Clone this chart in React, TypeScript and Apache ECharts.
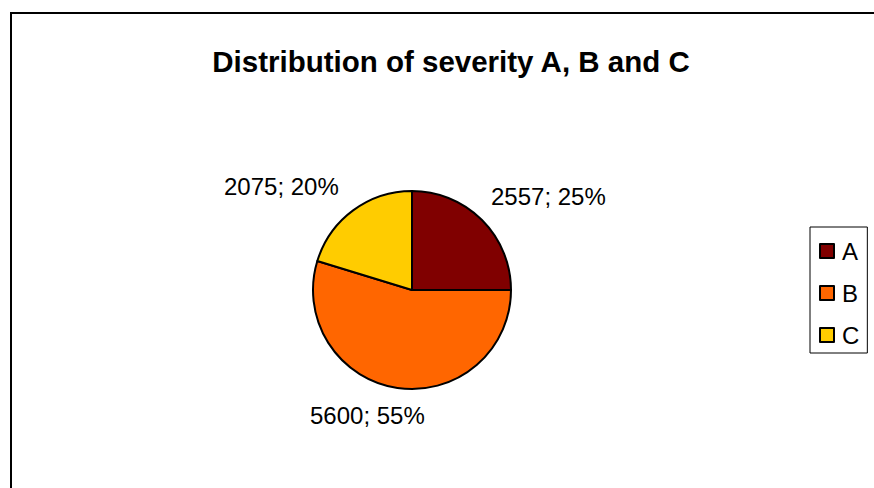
import React, { useEffect, useRef } from "react";
import * as echarts from "echarts";

const categories = ["A", "B", "C"];
const values = [2557, 5600, 2075];
const percents = [25, 55, 20];
const colors = ["#800000", "#FF6600", "#FFCC00"];
const titleText = "Distribution of severity A, B and C";

// label anchor positions (left edge, vertical middle) in px
const labelPos = [
  [491, 196],
  [310, 415],
  [224, 186],
];

export default function App() {
  const ref = useRef<HTMLDivElement>(null);
  useEffect(() => {
    document.body.style.margin = "0";
    const chart = echarts.init(ref.current!, undefined, { renderer: "svg" });
    const font = "'Liberation Sans', Arial, sans-serif";
    chart.setOption({
      animation: false,
      backgroundColor: "#ffffff",
      title: {
        text: titleText,
        left: 446,
        top: 41,
        textAlign: "center",
        textStyle: { fontFamily: font, fontSize: 29.5, fontWeight: "bold", color: "#000" },
      },
      legend: {
        orient: "vertical",
        left: 810,
        top: 227,
        data: categories,
        icon: "rect",
        itemWidth: 14,
        itemHeight: 14,
        itemGap: 18,
        borderColor: "#000",
        borderWidth: 1,
        padding: [12, 8, 6, 9],
        itemStyle: { borderColor: "#000", borderWidth: 2 },
        textStyle: { fontFamily: font, fontSize: 24, color: "#000", padding: [0, 0, 0, 3] },
      },
      graphic: [
        {
          type: "rect",
          shape: { x: 11, y: 13, width: 1000, height: 1000 },
          style: { fill: "none", stroke: "#000", lineWidth: 2 },
          silent: true,
        },
      ],
      series: [
        {
          type: "pie",
          center: [412, 290],
          radius: 99,
          startAngle: 90,
          clockwise: true,
          data: categories.map((c, i) => ({
            name: c,
            value: values[i],
            itemStyle: { color: colors[i] },
            label: { formatter: `${values[i]}; ${percents[i]}%` },
          })),
          itemStyle: { borderColor: "#000", borderWidth: 2 },
          label: {
            show: true,
            position: "outside",
            fontFamily: font,
            fontSize: 24,
            color: "#000",
          },
          labelLine: { show: false },
          labelLayout: (params: any) => {
            const p = labelPos[params.dataIndex];
            return { x: p[0], y: p[1], align: "left", verticalAlign: "middle" };
          },
          emphasis: { disabled: true },
        },
      ],
    });
    return () => chart.dispose();
  }, []);
  return <div ref={ref} style={{ width: 874, height: 488 }} />;
}
